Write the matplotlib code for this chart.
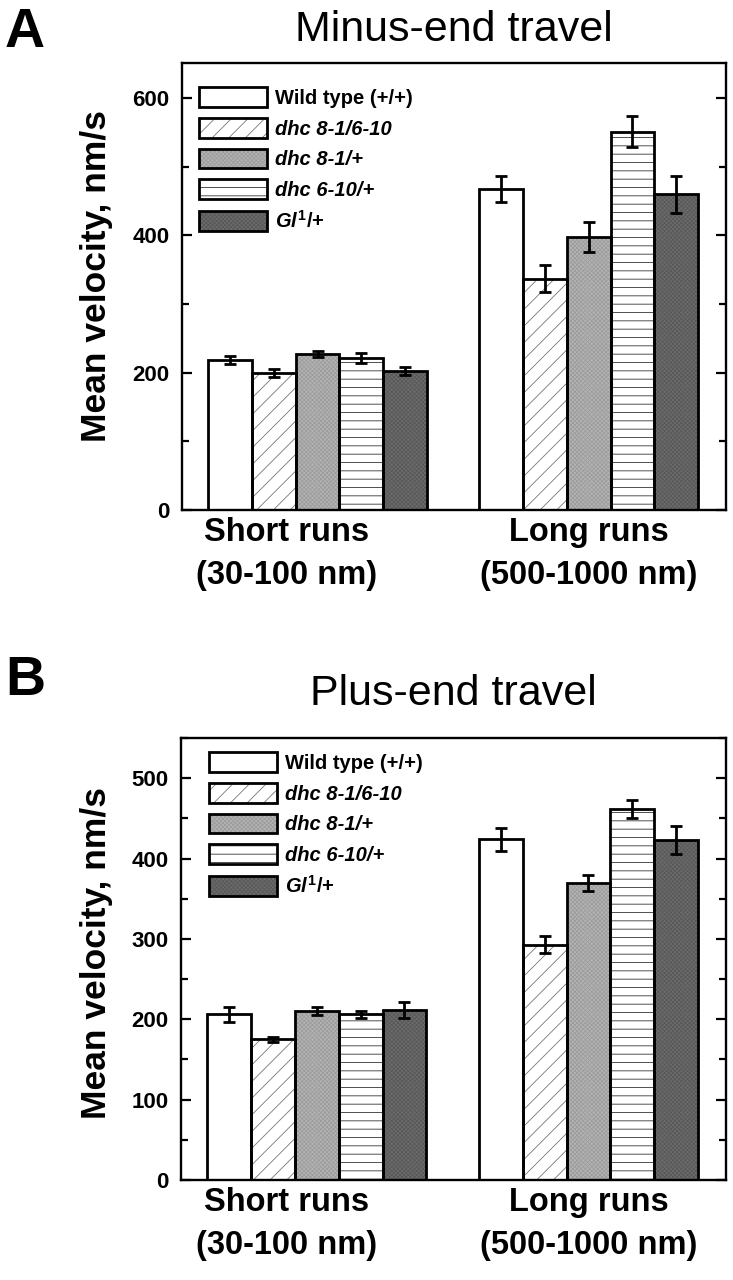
import matplotlib
matplotlib.use("Agg")
import matplotlib.pyplot as plt
import matplotlib.ticker as mticker
from matplotlib.patches import Patch

plt.rcParams['font.family'] = ['Liberation Sans', 'DejaVu Sans']
plt.rcParams['mathtext.fontset'] = 'custom'
plt.rcParams['mathtext.it'] = 'Liberation Sans:bold:italic'
plt.rcParams['mathtext.rm'] = 'Liberation Sans:bold'
plt.rcParams['mathtext.bf'] = 'Liberation Sans:bold'
plt.rcParams['hatch.linewidth'] = 0.6

# genotypes (legend order)
genotypes = ["Wild type (+/+)", "dhc 8-1/6-10", "dhc 8-1/+", "dhc 6-10/+", r"$Gl^{1}$/+"]
groups = ["Short runs\n(30-100 nm)", "Long runs\n(500-1000 nm)"]

# A: minus-end travel
minus_short = [218, 200, 227, 221, 202]
minus_short_err = [6, 6, 4, 7, 6]
minus_long = [467, 337, 398, 551, 460]
minus_long_err = [19, 20, 22, 23, 27]

# B: plus-end travel
plus_short = [206, 175, 210, 206, 212]
plus_short_err = [9, 3, 5, 4, 10]
plus_long = [424, 293, 370, 462, 423]
plus_long_err = [14, 10, 10, 11, 17]

# fill style per genotype: (facecolor, hatch, hatch colour)
styles = [
    ("white", None, "black"),
    ("white", "//", "#777777"),
    ("#b4b4b4", "xxxxxxxx", "#9c9c9c"),
    ("white", "--", "#333333"),
    ("#6c6c6c", "xxxxxxxx", "#585858"),
]

BAR_W = 1.0
GROUP_START = [0.0, 6.2]
EDGE_LW = 2.0


def fill_patch(face, hatch, hcolor):
    with plt.rc_context({'hatch.color': hcolor}):
        return Patch(facecolor=face, hatch=hatch, edgecolor=None, linewidth=0)


def draw_panel(ax, short, short_err, long_, long_err, ymax, major, minor,
               title, title_pad, leg_anchor, label_xy):
    handles = []
    for i, (face, hatch, hcolor) in enumerate(styles):
        xs = [g + i * BAR_W + BAR_W / 2 for g in GROUP_START]
        vals = [short[i], long_[i]]
        errs = [short_err[i], long_err[i]]
        with plt.rc_context({'hatch.color': hcolor}):
            ax.bar(xs, vals, width=BAR_W, color=face, hatch=hatch, linewidth=0, zorder=2)
        ax.bar(xs, vals, width=BAR_W, fill=False, edgecolor="black", linewidth=EDGE_LW, zorder=3)
        ax.errorbar(xs, vals, yerr=errs, fmt="none", ecolor="black", elinewidth=2,
                    capsize=4.5, capthick=2, zorder=4)
        handles.append((fill_patch(face, hatch, hcolor),
                        Patch(fill=False, edgecolor="black", linewidth=EDGE_LW)))

    ax.set_xlim(-0.6, 11.84)
    ax.set_ylim(0, ymax)
    ax.yaxis.set_major_locator(mticker.MultipleLocator(major))
    ax.yaxis.set_minor_locator(mticker.MultipleLocator(minor))
    ax.set_xticks([1.8, 8.7])
    ax.set_xticklabels(groups, fontsize=23.5, fontweight="bold", linespacing=1.5)
    ax.tick_params(axis="x", length=0, pad=5)
    ax.tick_params(axis="y", which="both", direction="in", right=True, width=1.6)
    ax.tick_params(axis="y", which="major", length=7, labelsize=16, pad=9)
    ax.tick_params(axis="y", which="minor", length=5)
    for t in ax.get_yticklabels():
        t.set_fontweight("bold")
    for s in ax.spines.values():
        s.set_linewidth(1.7)
    ax.set_ylabel("Mean velocity, nm/s", fontsize=25.5, fontweight="bold")
    ax.yaxis.set_label_coords(*label_xy)
    ax.set_title(title, fontsize=31, pad=title_pad)

    leg = ax.legend(handles, genotypes, loc="upper left", bbox_to_anchor=leg_anchor,
                    frameon=False, borderpad=0, borderaxespad=0,
                    handlelength=3.4, handleheight=1.13, handletextpad=0.4,
                    labelspacing=0.5, prop={"size": 14.5, "weight": "bold"})
    for i, t in enumerate(leg.get_texts()):
        if i in (1, 2, 3):
            t.set_fontstyle("italic")


fig = plt.figure(figsize=(7.33, 12.8), dpi=100)
axA = fig.add_axes([182 / 733, 1 - 510 / 1280, 544 / 733, 447 / 1280])
axB = fig.add_axes([181 / 733, 1 - 1180 / 1280, 545 / 733, 442 / 1280])

draw_panel(axA, minus_short, minus_short_err, minus_long, minus_long_err,
           651, 200, 100, "Minus-end travel", 16, (0.031, 0.946), (-0.126, 0.523))
draw_panel(axB, plus_short, plus_short_err, plus_long, plus_long_err,
           550, 100, 50, "Plus-end travel", 24, (0.051, 0.968), (-0.124, 0.514))

fig.text(5 / 733, 1 - 47 / 1280, "A", fontsize=40, fontweight="bold")
fig.text(5 / 733, 1 - 695 / 1280, "B", fontsize=40, fontweight="bold")

fig.savefig("out.png", dpi=100)
